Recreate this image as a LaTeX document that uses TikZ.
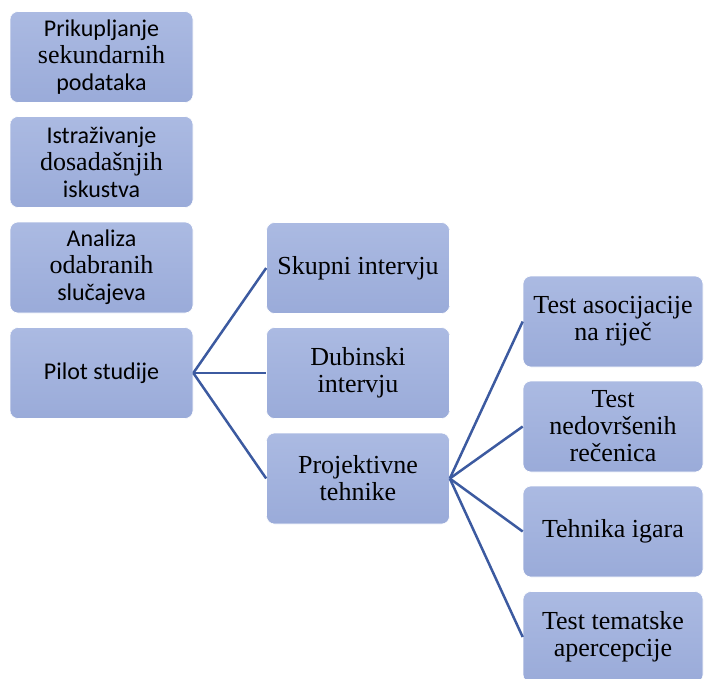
\documentclass[tikz,border=0pt]{standalone}
\usepackage{fontspec}
\setmainfont{Liberation Serif}
\newfontfamily\calibrifont{Carlito}
\newcommand{\sanstxt}{\calibrifont\fontsize{24}{27}\selectfont}
\newcommand{\seriftxt}{\rmfamily\fontsize{26}{27}\selectfont}
\definecolor{boxtop}{RGB}{171,186,226}
\definecolor{boxbot}{RGB}{154,171,217}
\definecolor{linkblue}{RGB}{60,90,160}
\begin{document}
\begin{tikzpicture}[x=1pt,y=-1pt]

      \clip (0,0) rectangle (704,678);
      \useasboundingbox (0,0) rectangle (704,678);

      \begin{scope}[every node/.style={rounded corners=8pt,top color=boxtop,bottom color=boxbot,
          draw=white,line width=0.6pt,minimum width=183pt,minimum height=91pt,
          inner sep=2pt,align=center,font=\seriftxt}]
        \node (prik)  at (101.5,57)  {\sanstxt Prikupljanje\\ \seriftxt sekundarnih\\ \sanstxt podataka};
        \node (istr)  at (101.5,162) {\sanstxt Istraživanje\\ \seriftxt dosadašnjih\\ \sanstxt iskustva};
        \node (anal)  at (101.5,267.5) {\sanstxt Analiza\\ \seriftxt odabranih\\ \sanstxt slučajeva};
        \node (pilot) at (101.5,373) {\sanstxt Pilot studije};
        \node (skup)  at (358,268)   {Skupni intervju};
        \node (dub)   at (358,373)   {Dubinski\\ intervju};
        \node (proj)  at (358,478.5) {Projektivne\\ tehnike};
        \node[minimum width=180pt] (asoc)  at (613,321.5) {Test asocijacije\\ na riječ};
        \node[minimum width=180pt] (nedov) at (613,426.5) {Test\\ nedovršenih\\ rečenica};
        \node[minimum width=180pt] (igre)  at (613,531.5) {Tehnika igara};
        \node[minimum width=180pt] (tat)   at (613,637)   {Test tematske\\ apercepcije};
      \end{scope}

      \begin{scope}[every edge/.style={draw=linkblue,line width=2.5pt}]
        \path (pilot.east) edge (skup.west);
        \path (pilot.east) edge (dub.west);
        \path (pilot.east) edge (proj.west);
        \path (proj.east)  edge (asoc.west);
        \path (proj.east)  edge (nedov.west);
        \path (proj.east)  edge (igre.west);
        \path (proj.east)  edge (tat.west);
      \end{scope}

    \end{tikzpicture}
\end{document}
